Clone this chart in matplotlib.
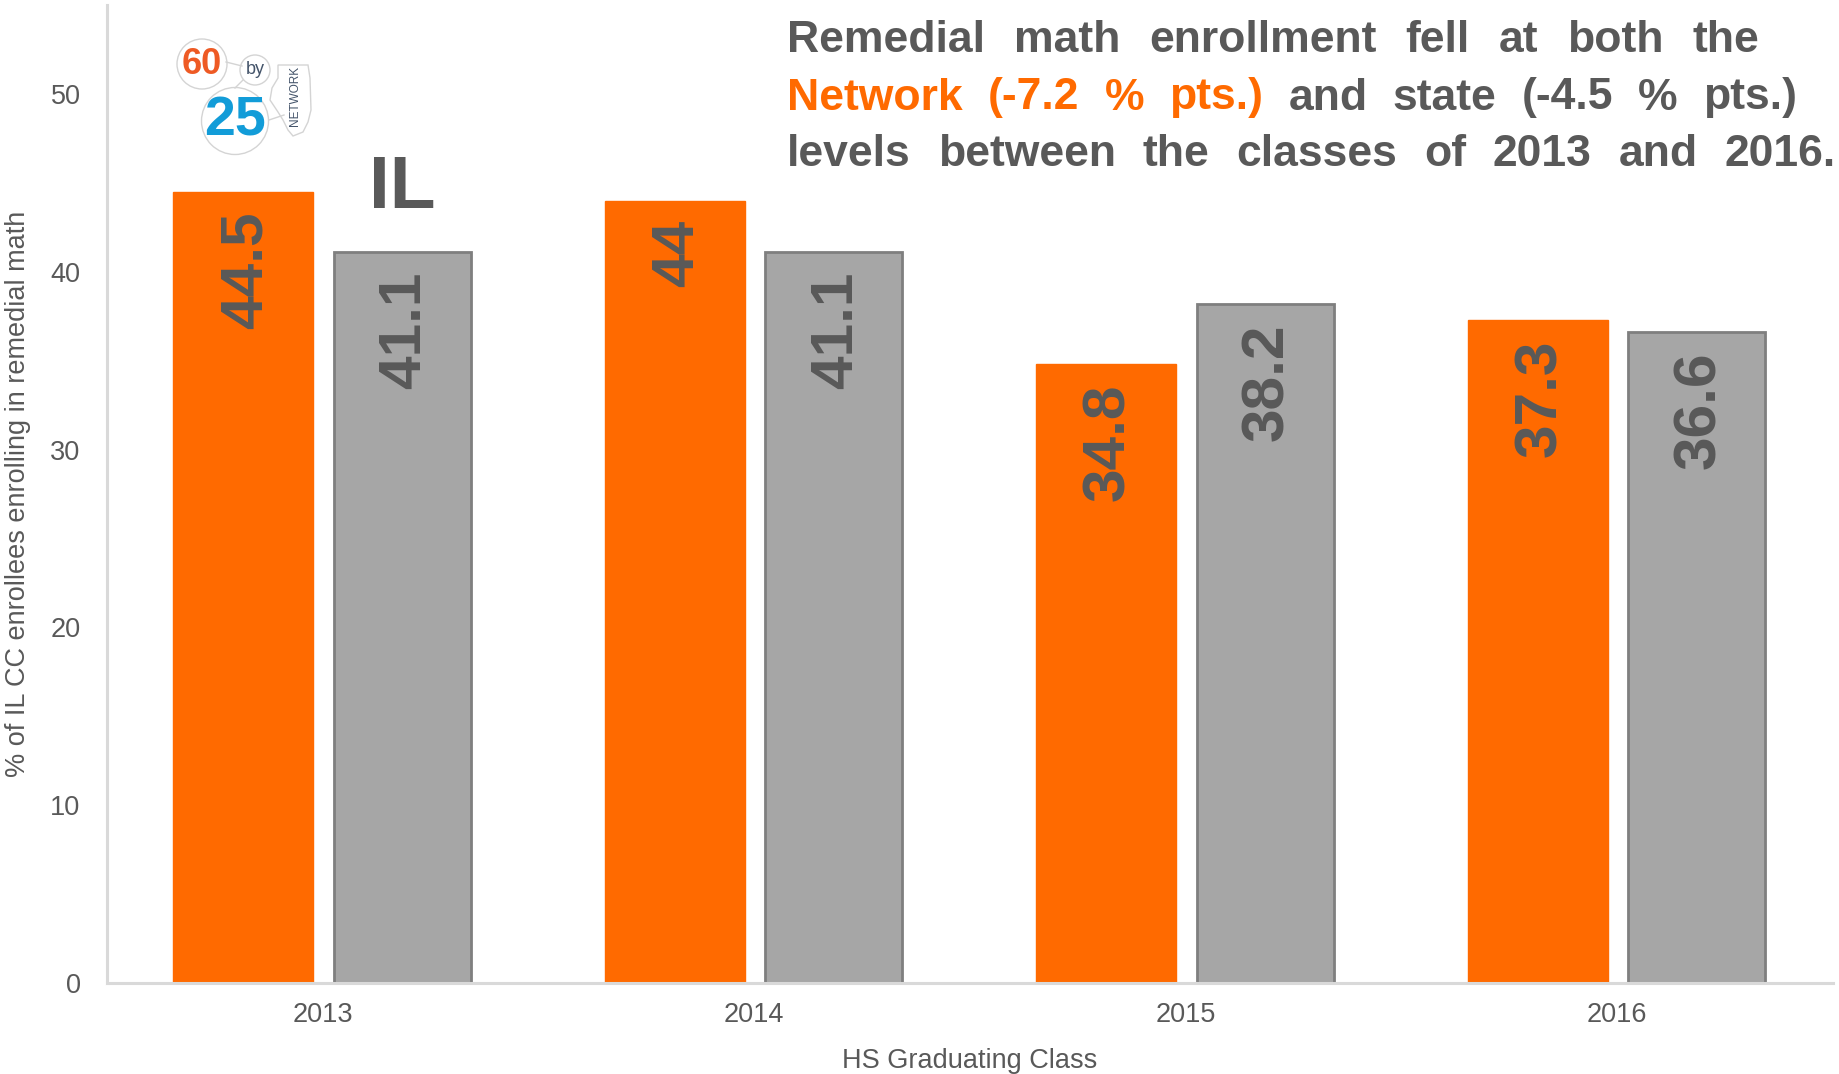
import numpy as np
import matplotlib
matplotlib.use('Agg')
import matplotlib.pyplot as plt
from matplotlib.patches import Circle, Polygon

plt.rcParams['font.family'] = ['Liberation Sans', 'DejaVu Sans']

years = ['2013', '2014', '2015', '2016']
network = [44.5, 44, 34.8, 37.3]
state = [41.1, 41.1, 38.2, 36.6]
yticks = [0, 10, 20, 30, 40, 50]

dark = '#595959'
orange = '#ff6a00'

W, H = 1839, 1074
fig = plt.figure(figsize=(W / 100, H / 100), dpi=100)
ax = fig.add_axes([107 / W, (H - 983) / H, 1726 / W, 978 / H])

x = np.arange(len(years))
b1 = ax.bar(x - 0.184, network, 0.325, color=orange, edgecolor=orange, linewidth=1)
b2 = ax.bar(x + 0.184, state, 0.318, color='#a6a6a6', edgecolor='#7f7f7f', linewidth=2)

ax.set_xlim(-0.5, 3.5)
ax.set_ylim(0, 55)
ax.set_xticks(x, years)
ax.set_yticks(yticks)
ax.tick_params(length=0, labelsize=19.5, labelcolor=dark)
ax.tick_params(axis='x', pad=14)
ax.tick_params(axis='y', pad=19)
for s in ['top', 'right']:
    ax.spines[s].set_visible(False)
for s in ['left', 'bottom']:
    ax.spines[s].set_color('#d9d9d9')
    ax.spines[s].set_linewidth(2.2)

ax.set_xlabel('HS Graduating Class', fontsize=19.5, color=dark, labelpad=14)
ax.set_ylabel('% of IL CC enrollees enrolling in remedial math', fontsize=19.5, color=dark, labelpad=14)

for bars, vals in ((b1, network), (b2, state)):
    for r, v in zip(bars, vals):
        ax.annotate(f'{v:g}', (r.get_x() + r.get_width() / 2, v), xytext=(2, -14),
                    textcoords='offset points', rotation=90, ha='center', va='top',
                    fontsize=43.5, fontweight='bold', color=dark)

# overlay in pixel coordinates for the headline and the logo
ov = fig.add_axes([0, 0, 1, 1], zorder=5)
ov.set_xlim(0, W)
ov.set_ylim(H, 0)
ov.axis('off')

ov.text(402, 188, 'IL', fontsize=54, fontweight='bold', color=dark, ha='center', va='center')

lines = [
    (40, 1759, [('Remedial', dark), ('math', dark), ('enrollment', dark), ('fell', dark), ('at', dark),
                ('both', dark), ('the', dark)]),
    (98, 1797, [('Network', orange), ('(-7.2', orange), ('%', orange), ('pts.)', orange), ('and', dark),
                ('state', dark), ('(-4.5', dark), ('%', dark), ('pts.)', dark)]),
    (155, 1836, [('levels', dark), ('between', dark), ('the', dark), ('classes', dark), ('of', dark),
                 ('2013', dark), ('and', dark), ('2016.', dark)]),
]
renderer = fig.canvas.get_renderer()
for y, right, words in lines:
    items = [ov.text(0, y, w, fontsize=32, fontweight='bold', color=c, ha='left', va='center')
             for w, c in words]
    widths = [t.get_window_extent(renderer).width for t in items]
    gap = (right - 787 - sum(widths)) / (len(items) - 1)
    pos = 787
    for t, w in zip(items, widths):
        t.set_x(pos)
        pos += w + gap

# logo
ring = dict(fill=False, edgecolor='#d4d4d4', linewidth=1)
ov.plot([226, 242], [62, 66], color='#d4d4d4', lw=1)
ov.plot([243, 235], [80, 88], color='#d4d4d4', lw=1)
ov.plot([269, 284], [120, 115], color='#d4d4d4', lw=1)
ov.add_patch(Circle((202, 64), 25, **ring))
ov.add_patch(Circle((255, 70), 15, **ring))
ov.add_patch(Circle((235, 121), 33.5, **ring))
ov.add_patch(Polygon([(278, 65), (308, 65), (310, 78), (311, 110), (308, 122), (303, 132), (293, 136),
                      (288, 130), (283, 120), (278, 112), (270, 100), (272, 88), (278, 78)],
                     closed=True, fill=False, edgecolor='#d4d4d4', linewidth=1))
ov.text(202, 65, '60', fontsize=26, fontweight='bold', color='#ee5a24', ha='center', va='center')
ov.text(255, 70, 'by', fontsize=13, color='#44546a', ha='center', va='center')
ov.text(235, 122, '25', fontsize=40, fontweight='bold', color='#129cd8', ha='center', va='center')
ov.text(295, 96, 'NETWORK', fontsize=8.5, color='#44546a', rotation=90, ha='center', va='center')

fig.savefig('out.png', dpi=100)
